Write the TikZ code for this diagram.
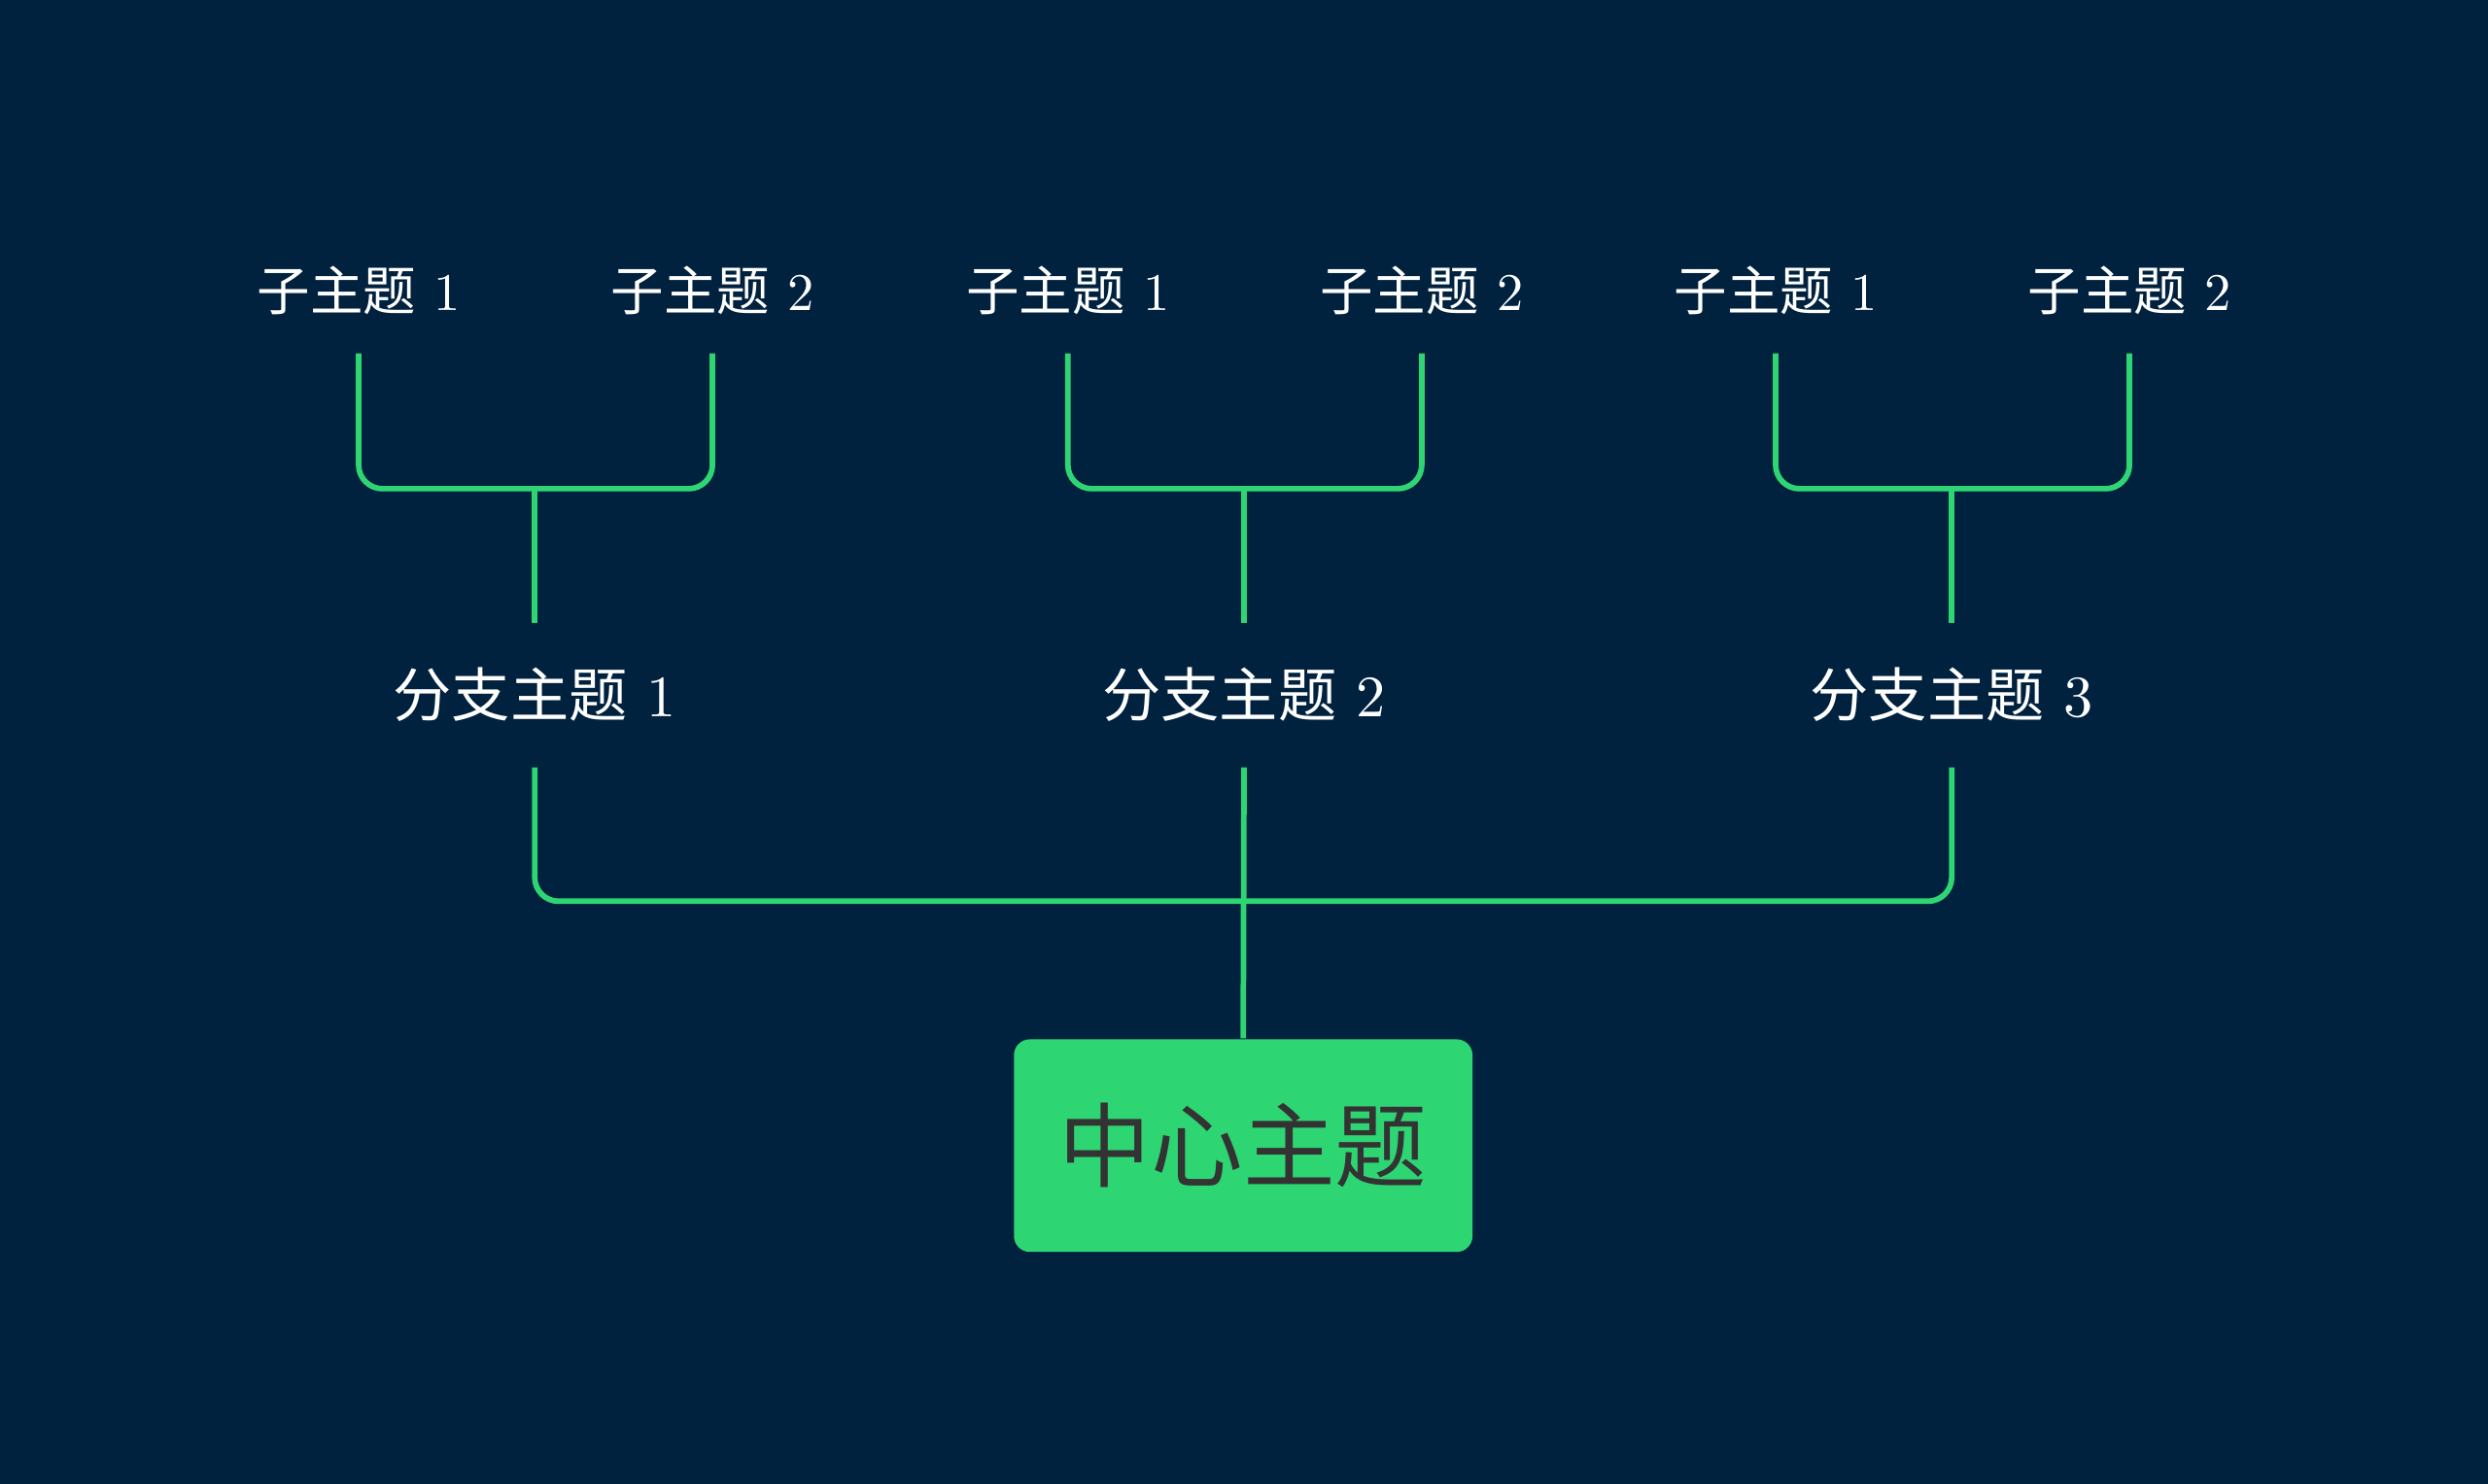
\documentclass[tikz,border=0pt]{standalone}
\usepackage{fontspec}
\newfontfamily\cjk{Noto Sans CJK SC}
\usetikzlibrary{positioning}
\definecolor{bgblue}{HTML}{00223F}
\definecolor{linegreen}{HTML}{2ED573}
\definecolor{boxtext}{HTML}{333333}
\tikzset{
    link/.style={draw=linegreen, line width=1pt, rounded corners=0.15cm}, % connector lines
    subtopic/.style={text=white, font=\fontsize{9.5}{11}\selectfont, minimum height=0.78cm, inner sep=0pt},
    branch/.style={text=white, font=\fontsize{10.5}{12}\selectfont, minimum height=0.9cm, inner sep=0pt},
    centre/.style={fill=linegreen, text=boxtext, rounded corners=0.1cm, minimum width=2.89cm, minimum height=1.34cm, font=\cjk\fontsize{16.5}{18}\selectfont},
}
\begin{document}
\begin{tikzpicture}
    \fill[bgblue] (0,0) rectangle (15.68,-9.35);
    \node[centre] (c) at (7.835,-7.22) {中心主题};
    \foreach \i/\x in {1/3.37, 2/7.84, 3/12.30} {
        \node[branch] (b\i) at (\x,-4.38) {{\cjk 分支主题} \i};
        \node[subtopic] (s\i a) at (\x-1.11,-1.83) {{\cjk 子主题} 1};
        \node[subtopic] (s\i b) at (\x+1.12,-1.83) {{\cjk 子主题} 2};
        \draw[link] (s\i a.south) |- (\x,-3.08) -| (s\i b.south);
        \draw[link] (b\i.north) -- (\x,-3.08);
    }
    \draw[link] (b1.south) |- (7.84,-5.68) -| (b3.south);
    \draw[link] (b2.south) -- (c.north);
\end{tikzpicture}
\end{document}
